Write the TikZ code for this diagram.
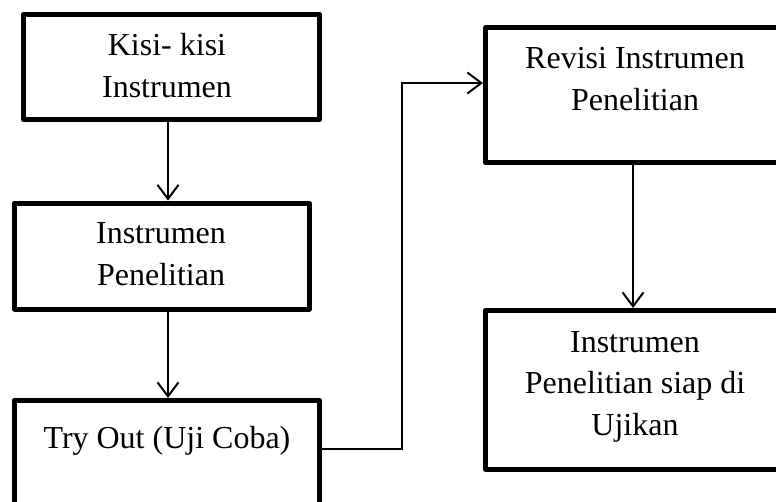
\documentclass[tikz,border=0pt]{standalone}
\usepackage{fontspec}
\setmainfont{Liberation Serif}
\usetikzlibrary{arrows.meta}
\begin{document}
\begin{tikzpicture}[x=1pt,y=-1pt,
  box/.style={draw=black,line width=5pt,line join=round,rectangle,inner sep=0pt,minimum width=#1},
  txt/.style={anchor=base,inner sep=0pt,font=\fontsize{32}{42}\selectfont},
  conn/.style={draw=black,line width=2pt},
  arr/.style={conn,-{Straight Barb[length=14pt,width=21pt]}}]
\useasboundingbox (0,0) rectangle (776,501);
\clip (0,0) rectangle (776,501);
% boxes (corners at border centres)
\node[box=296pt,minimum height=105pt,anchor=north west] (b1) at (21,12) {};
\node[box=294.5pt,minimum height=106pt,anchor=north west] (b2) at (12,200.5) {};
\node[box=305.5pt,minimum height=130pt,anchor=north west] (b3) at (11.5,398) {};
\node[box=299.5pt,minimum height=135pt,anchor=north west] (b4) at (483,25) {};
\node[box=299.5pt,minimum height=158.5pt,anchor=north west] (b5) at (483,308) {};
% texts
\node[txt] (t1a) at (167,55) {Kisi- kisi};
\node[txt] (t1b) at (167,97) {Instrumen};
\node[txt] (t2a) at (161,243) {Instrumen};
\node[txt] (t2b) at (161,285) {Penelitian};
\node[txt] (t3a) at (167,448) {Try Out (Uji Coba)};
\node[txt] (t4a) at (635,68) {Revisi Instrumen};
\node[txt] (t4b) at (635,110) {Penelitian};
\node[txt] (t5a) at (635,352) {Instrumen};
\node[txt] (t5b) at (635,393) {Penelitian siap di};
\node[txt] (t5c) at (635,435) {Ujikan};
% connectors
\coordinate (cl) at (168,0);
\coordinate (cr) at (633,0);
\coordinate (cm) at (402,0);
\coordinate (ry) at (0,449);
\coordinate (ty) at (0,83);
\draw[arr] (b1.south -| cl) -- (b2.north -| cl);
\draw[arr] (b2.south -| cl) -- (b3.north -| cl);
\draw[arr] (b3.east |- ry) -- (cm |- ry) -- (cm |- ty) -- (b4.west |- ty);
\draw[arr] (b4.south -| cr) -- (b5.north -| cr);
\end{tikzpicture}
\end{document}
